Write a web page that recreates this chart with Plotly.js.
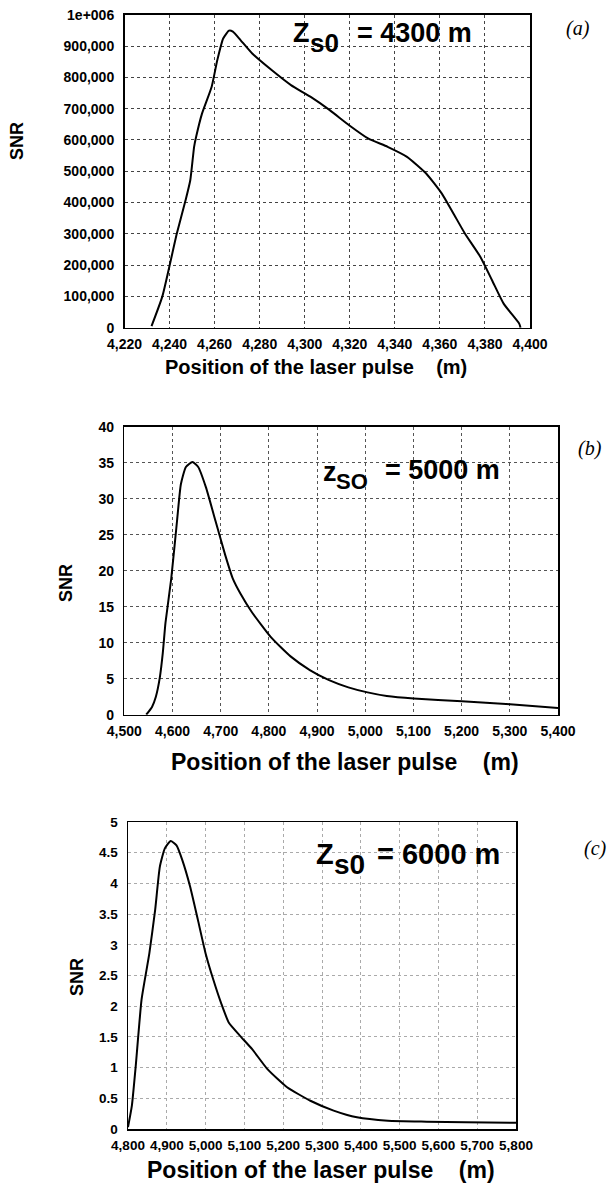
<!DOCTYPE html>
<html>
<head>
<meta charset="utf-8">
<script src="https://cdn.plot.ly/plotly-3.0.1.min.js"></script>
<style>html,body{margin:0;padding:0;background:#fff;}#chart{width:608px;height:1186px;}</style>
</head>
<body>
<div id="chart"></div>
<script>
// ---------- DATA ----------
// Panel (a): Zs0 = 4300 m
const posA = [4232.0, 4236.8, 4243.2, 4247.1, 4249.2, 4250.9, 4251.8, 4254.4, 4258.7, 4261.2, 4263.8, 4266.4, 4268.1, 4271.5, 4276.7, 4285.3, 4293.9, 4302.5, 4311.1, 4319.7, 4328.3, 4336.8, 4345.4, 4354.0, 4360.8, 4366.0, 4371.1, 4378.0, 4383.2, 4388.3, 4395.2, 4395.8];
const snrA = [5000, 100000, 300000, 407000, 471000, 578000, 610000, 684000, 770000, 855000, 924000, 949000, 946000, 919000, 876000, 823000, 775000, 738000, 695000, 647000, 604000, 578000, 546000, 492000, 429000, 365000, 301000, 226000, 151000, 77000, 13000, 0];

// Panel (b): zso = 5000 m
const posB = [4545.5, 4557.5, 4565.5, 4573.5, 4579.9, 4585.5, 4597.4, 4609.4, 4617.4, 4627.8, 4641.4, 4653.4, 4669.3, 4689.3, 4709.3, 4725.2, 4741.2, 4765.2, 4805.1, 4845.0, 4885.0, 4924.9, 4964.9, 5004.8, 5044.7, 5100.6, 5200.5, 5300.3, 5400];
const snrB = [0, 1.08, 2.49, 5.07, 8.58, 12.8, 18.9, 26.9, 32.0, 34.4, 35.1, 34.4, 31.6, 26.9, 22.2, 18.9, 16.8, 14.2, 10.7, 8.1, 6.2, 4.8, 3.8, 3.1, 2.6, 2.25, 1.88, 1.45, 0.94];

// Panel (c): Zs0 = 6000 m
const posC = [4800, 4810, 4820, 4835, 4855, 4870, 4882, 4895, 4910, 4925, 4940, 4960, 4980, 5000, 5020, 5040, 5060, 5090, 5120, 5160, 5210, 5270, 5330, 5390, 5470, 5570, 5670, 5800];
const snrC = [0.03, 0.38, 1.03, 2.11, 2.86, 3.57, 4.27, 4.57, 4.69, 4.62, 4.38, 3.95, 3.41, 2.86, 2.43, 2.05, 1.73, 1.51, 1.30, 0.97, 0.68, 0.46, 0.30, 0.19, 0.135, 0.12, 0.11, 0.10];

// Tick values and labels
const xTickValsA = [4220, 4240, 4260, 4280, 4300, 4320, 4340, 4360, 4380, 4400];
const xTickTextA = ['4,220', '4,240', '4,260', '4,280', '4,300', '4,320', '4,340', '4,360', '4,380', '4,400'];
const yTickValsA = [0, 100000, 200000, 300000, 400000, 500000, 600000, 700000, 800000, 900000, 1000000];
const yTickTextA = ['0', '100,000', '200,000', '300,000', '400,000', '500,000', '600,000', '700,000', '800,000', '900,000', '1e+006'];

const xTickValsB = [4500, 4600, 4700, 4800, 4900, 5000, 5100, 5200, 5300, 5400];
const xTickTextB = ['4,500', '4,600', '4,700', '4,800', '4,900', '5,000', '5,100', '5,200', '5,300', '5,400'];
const yTickValsB = [0, 5, 10, 15, 20, 25, 30, 35, 40];
const yTickTextB = ['0', '5', '10', '15', '20', '25', '30', '35', '40'];

const xTickValsC = [4800, 4900, 5000, 5100, 5200, 5300, 5400, 5500, 5600, 5700, 5800];
const xTickTextC = ['4,800', '4,900', '5,000', '5,100', '5,200', '5,300', '5,400', '5,500', '5,600', '5,700', '5,800'];
const yTickValsC = [0, 0.5, 1, 1.5, 2, 2.5, 3, 3.5, 4, 4.5, 5];
const yTickTextC = ['0', '0.5', '1', '1.5', '2', '2.5', '3', '3.5', '4', '4.5', '5'];

const xTitle = 'Position of the laser pulse\u00a0\u00a0\u00a0\u00a0(m)';
const yTitle = 'SNR';

// ---------- LAYOUT ----------
const W = 608, H = 1186;
const boxA = {l: 124.5, r: 530, t: 14.7, b: 327.7};
const boxB = {l: 124.3, r: 558, t: 426.7, b: 714.7};
const boxC = {l: 128, r: 516, t: 822, b: 1129};
const px = x => x / W;
const py = y => 1 - y / H;

const tf = (s) => ({family: 'Liberation Sans, Arial, sans-serif', size: s, color: '#000', weight: 'bold'});

function xAx(box, range, vals, text, grid, dash, anchor, fs) {
  return {
    domain: [px(box.l), px(box.r)], range: range, anchor: anchor,
    tickmode: 'array', tickvals: vals, ticktext: text, tickfont: tf(fs),
    ticks: '', ticklabelstandoff: 3,
    showline: true, mirror: true, linecolor: '#000', linewidth: 1.5,
    showgrid: true, gridcolor: grid, griddash: dash, gridwidth: 1,
    zeroline: false, fixedrange: true
  };
}
function yAx(box, range, vals, text, grid, dash, anchor, fs) {
  return {
    domain: [py(box.b), py(box.t)], range: range, anchor: anchor,
    tickmode: 'array', tickvals: vals, ticktext: text, tickfont: tf(fs),
    ticks: '', ticklabelstandoff: 6,
    showline: true, mirror: true, linecolor: '#000', linewidth: 1.5,
    showgrid: true, gridcolor: grid, griddash: dash, gridwidth: 1,
    zeroline: false, fixedrange: true
  };
}

const lineStyle = {color: '#000', width: 2, shape: 'spline', smoothing: 0.5};
const traces = [
  {x: posA, y: snrA, xaxis: 'x', yaxis: 'y', mode: 'lines', line: lineStyle, hoverinfo: 'skip'},
  {x: posB, y: snrB, xaxis: 'x2', yaxis: 'y2', mode: 'lines', line: lineStyle, hoverinfo: 'skip'},
  {x: posC, y: snrC, xaxis: 'x3', yaxis: 'y3', mode: 'lines', line: lineStyle, hoverinfo: 'skip'}
];

const bold = (s) => ({family: 'Liberation Sans, Arial, sans-serif', size: s, color: '#000', weight: 'bold'});
const serifIt = {family: 'Liberation Serif, Times New Roman, serif', size: 20, color: '#000', style: 'italic'};

function ann(text, x, y, font, extra) {
  return Object.assign({text: text, x: px(x), y: py(y), xref: 'paper', yref: 'paper',
    xanchor: 'center', yanchor: 'middle', showarrow: false, font: font}, extra || {});
}

const annotations = [
  // Panel a
  ann('Z', 301, 32.5, bold(27)),
  ann('s0', 324, 43, bold(26)),
  ann('= 4300 m', 414, 32.5, bold(27)),
  ann('(a)', 578, 28, serifIt),
  ann(yTitle, 17, 141, bold(18), {textangle: -90}),
  ann(xTitle, 316, 367, bold(20)),
  // Panel b
  ann('z', 330, 472, bold(27)),
  ann('SO', 352, 481, bold(22)),
  ann('= 5000 m', 442, 469.5, bold(27)),
  ann('(b)', 590, 448, serifIt),
  ann(yTitle, 66, 583, bold(18), {textangle: -90}),
  ann(xTitle, 345, 762, bold(23)),
  // Panel c
  ann('Z', 325, 854, bold(29)),
  ann('s0', 349.5, 864, bold(28)),
  ann('= 6000 m', 438.5, 854, bold(29)),
  ann('(c)', 595, 848, serifIt),
  ann(yTitle, 77, 977, bold(18), {textangle: -90}),
  ann(xTitle, 321, 1170, bold(23))
];

const layout = {
  width: W, height: H,
  margin: {l: 0, r: 0, t: 0, b: 0, pad: 0},
  paper_bgcolor: '#fff', plot_bgcolor: '#fff',
  showlegend: false,
  xaxis: xAx(boxA, [4220, 4400], xTickValsA, xTickTextA, '#444', 'dot', 'y', 14),
  yaxis: yAx(boxA, [0, 1000000], yTickValsA, yTickTextA, '#444', 'dot', 'x', 14),
  xaxis2: xAx(boxB, [4500, 5400], xTickValsB, xTickTextB, '#555', 'dot', 'y2', 14),
  yaxis2: yAx(boxB, [0, 40], yTickValsB, yTickTextB, '#555', 'dot', 'x2', 14),
  xaxis3: xAx(boxC, [4800, 5800], xTickValsC, xTickTextC, '#aaa', 'dot', 'y3', 13.5),
  yaxis3: yAx(boxC, [0, 5], yTickValsC, yTickTextC, '#aaa', 'dot', 'x3', 13.5),
  annotations: annotations
};

Plotly.newPlot('chart', traces, layout, {staticPlot: true, displayModeBar: false});
</script>
</body>
</html>
